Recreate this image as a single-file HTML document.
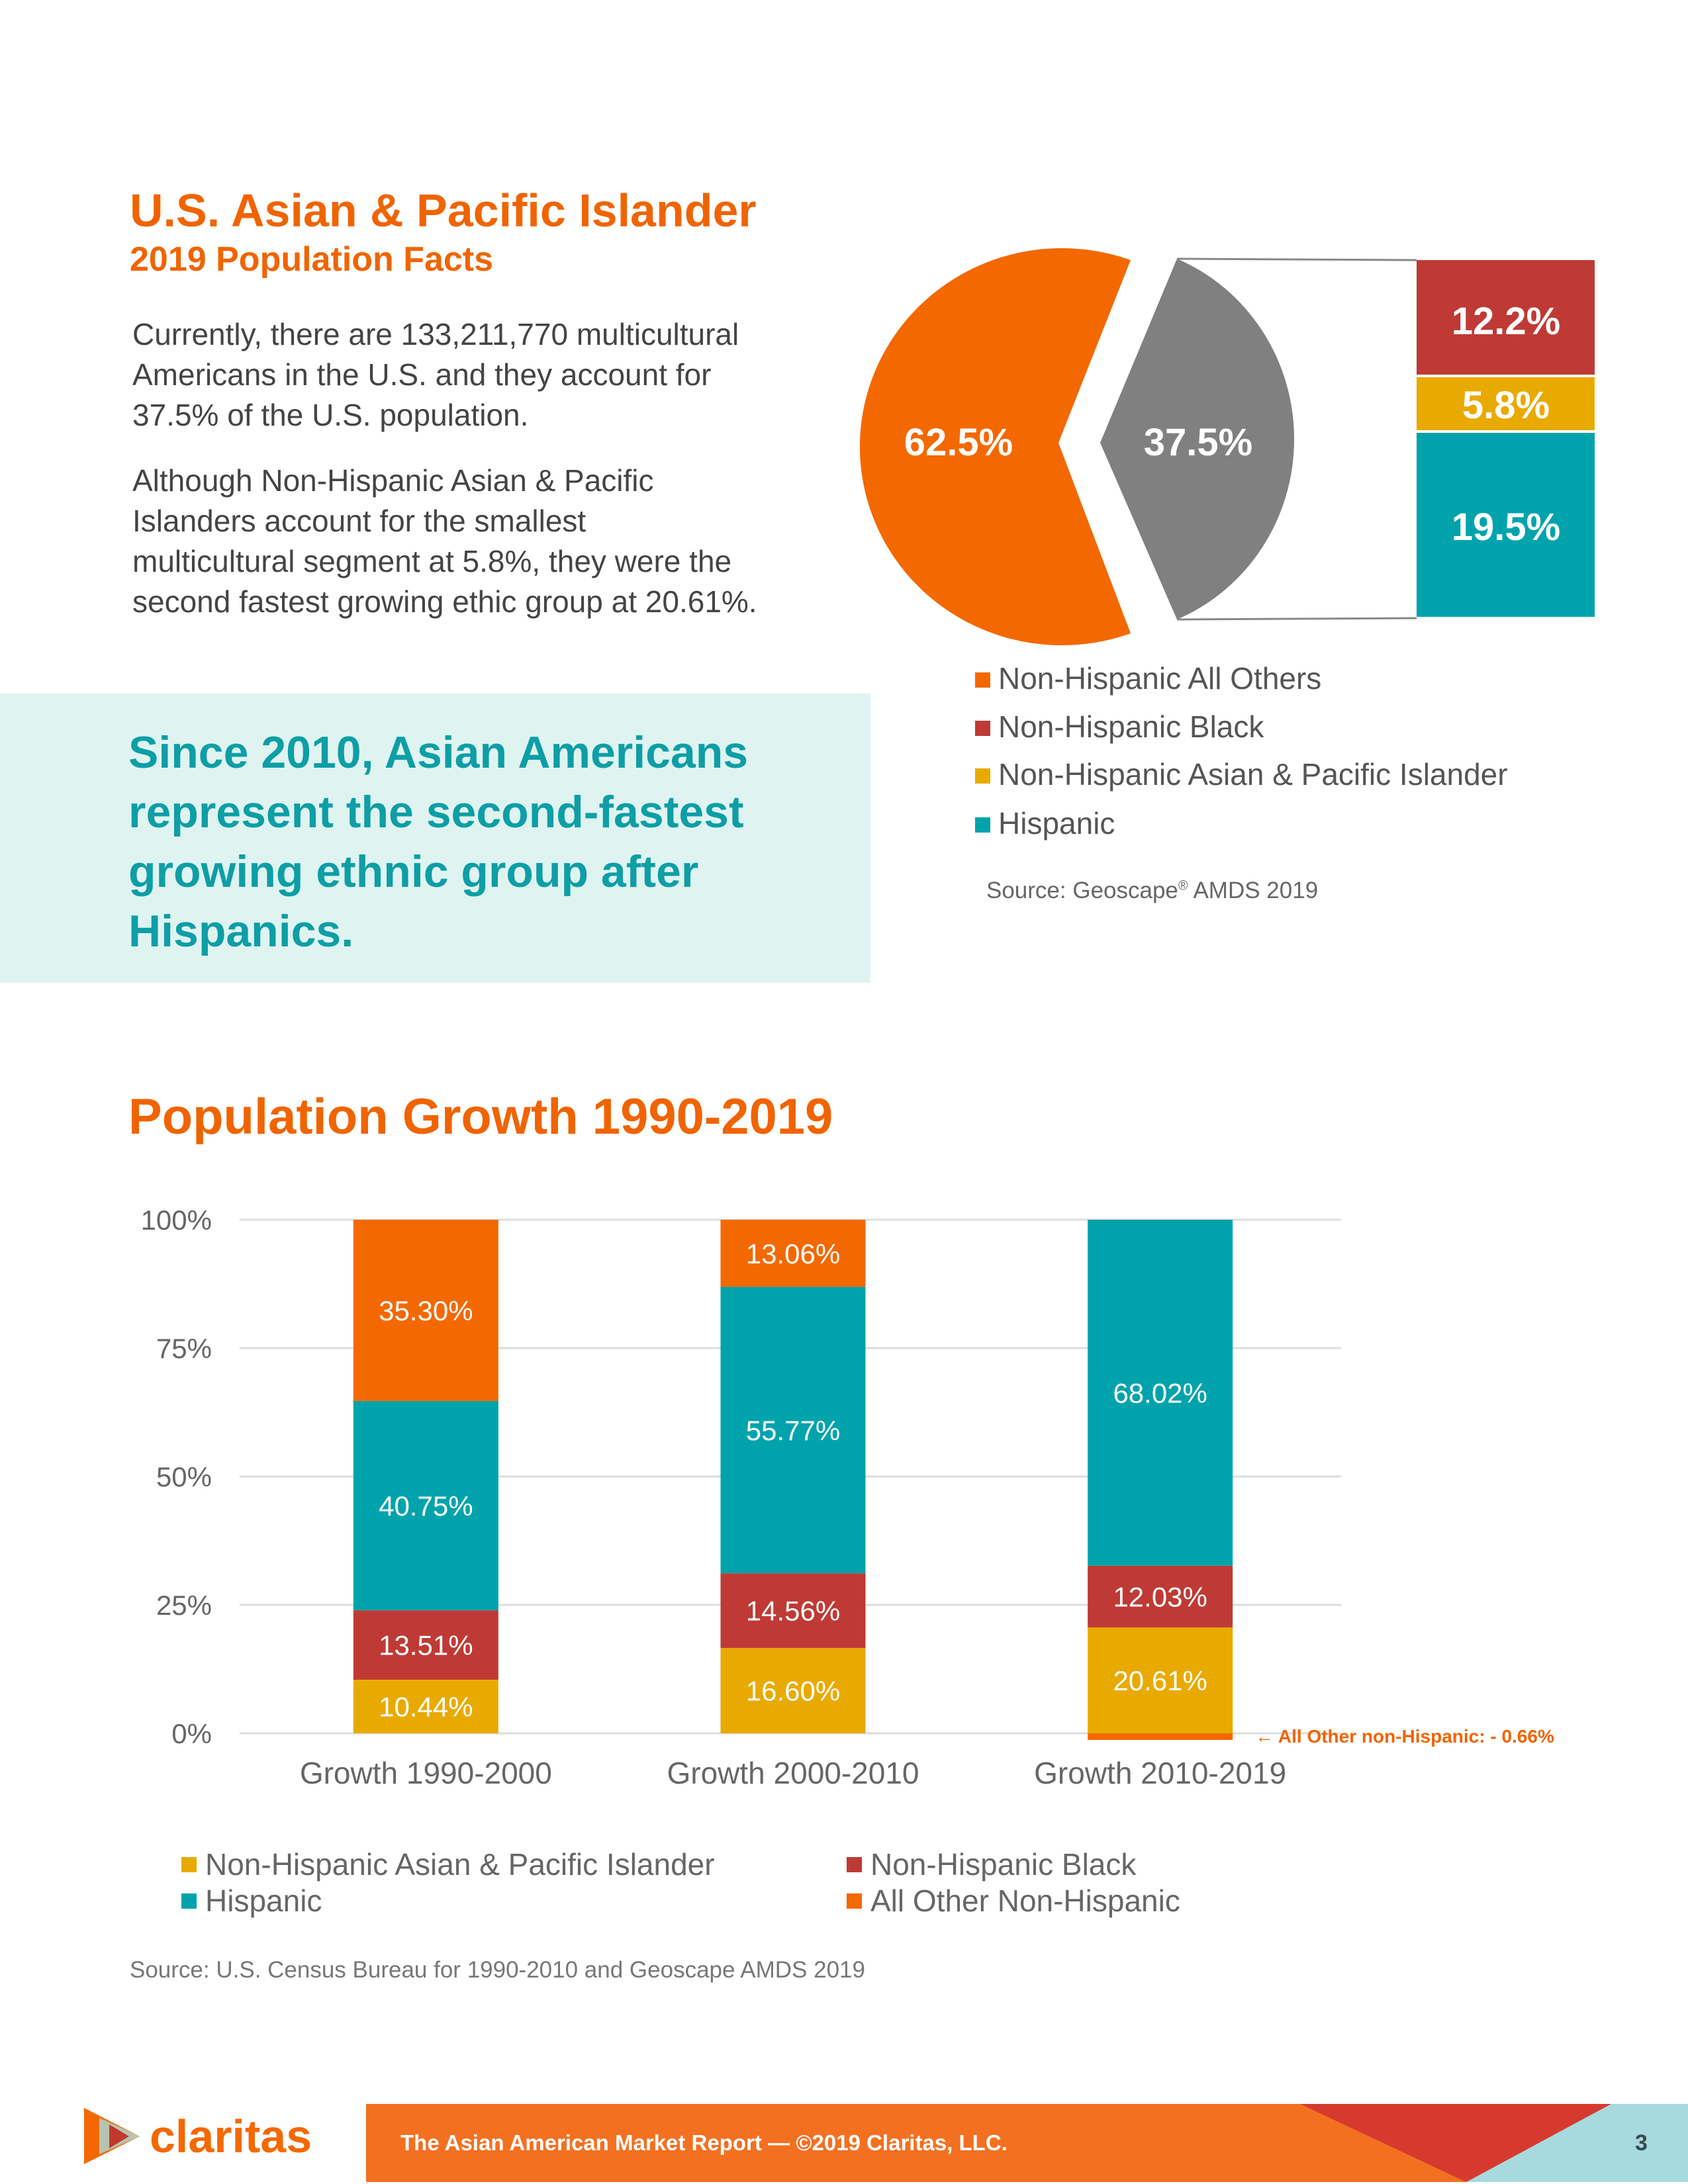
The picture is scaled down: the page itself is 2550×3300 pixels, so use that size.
<!DOCTYPE html>
<html><head><meta charset="utf-8"><style>
body{margin:0;width:2550px;height:3300px;position:relative;background:#fff;font-family:"Liberation Sans",sans-serif;overflow:hidden}
.a{position:absolute;white-space:nowrap}
</style></head><body>
<div class="a" style="left:196px;top:278px;font-size:70px;font-weight:bold;color:#f06400">U.S. Asian &amp; Pacific Islander</div>
<div class="a" style="left:196px;top:362px;font-size:52px;font-weight:bold;color:#f06400">2019 Population Facts</div>
<div class="a" style="left:200px;top:475px;font-size:46px;line-height:61px;color:#444">Currently, there are 133,211,770 multicultural<br>Americans in the U.S. and they account for<br>37.5% of the U.S. population.</div>
<div class="a" style="left:200px;top:696px;font-size:46px;line-height:61px;color:#444">Although Non-Hispanic Asian &amp; Pacific<br>Islanders account for the smallest<br>multicultural segment at 5.8%, they were the<br>second fastest growing ethic group at 20.61%.</div>
<div class="a" style="left:0;top:1048px;width:1315px;height:437px;background:#dff4f1"></div>
<div class="a" style="left:194px;top:1092px;font-size:68px;line-height:90px;font-weight:bold;color:#0e9ea6">Since 2010, Asian Americans<br>represent the second-fastest<br>growing ethnic group after<br>Hispanics.</div>

<svg class="a" style="left:0;top:0" width="2550" height="1100">
<path d="M1708,393 A305,300 0 1 0 1708,957 L1599,669 Z" fill="#f46800"/>
<path d="M1778,391 A287,295 0 0 1 1778,936 L1662,669 Z" fill="#808080"/>
<line x1="1778" y1="391" x2="2140" y2="393" stroke="#888" stroke-width="3"/>
<line x1="1778" y1="936" x2="2140" y2="934" stroke="#888" stroke-width="3"/>
<rect x="2140" y="393" width="269" height="173" fill="#bf3a35"/>
<rect x="2140" y="570" width="269" height="80" fill="#e9aa00"/>
<rect x="2140" y="654" width="269" height="278" fill="#00a3ac"/>
<g font-family="Liberation Sans" font-weight="bold" font-size="58" fill="#fff" text-anchor="middle">
<text x="1448" y="688">62.5%</text><text x="1810" y="688">37.5%</text>
<text x="2275" y="505">12.2%</text><text x="2275" y="632">5.8%</text><text x="2275" y="816">19.5%</text>
</g>
</svg>
<div>
<div class="a" style="left:1473px;top:1016px;width:23px;height:23px;background:#f46800"></div><div class="a" style="left:1508px;top:998px;font-size:46px;color:#555">Non-Hispanic All Others</div>
<div class="a" style="left:1473px;top:1089px;width:23px;height:23px;background:#bf3a35"></div><div class="a" style="left:1508px;top:1071px;font-size:46px;color:#555">Non-Hispanic Black</div>
<div class="a" style="left:1473px;top:1161px;width:23px;height:23px;background:#e9aa00"></div><div class="a" style="left:1508px;top:1143px;font-size:46px;color:#555">Non-Hispanic Asian &amp; Pacific Islander</div>
<div class="a" style="left:1473px;top:1235px;width:23px;height:23px;background:#00a3ac"></div><div class="a" style="left:1508px;top:1217px;font-size:46px;color:#555">Hispanic</div>
</div>
<div class="a" style="left:1490px;top:1326px;font-size:35px;color:#666">Source: Geoscape<sup style="font-size:20px">®</sup> AMDS 2019</div>

<div class="a" style="left:194px;top:1644px;font-size:76px;font-weight:bold;color:#f06400">Population Growth 1990-2019</div>

<svg class="a" id="bar" style="left:0;top:0" width="2550" height="3300"></svg>
<script>
const categories=["Growth 1990-2000","Growth 2000-2010","Growth 2010-2019"];
const asian=[10.44,16.60,20.61];
const black=[13.51,14.56,12.03];
const hispanic=[40.75,55.77,68.02];
const others=[35.30,13.06,-0.66];
const ticks=[0,25,50,75,100];
const svg=document.getElementById('bar');
const NS='http://www.w3.org/2000/svg';
const y0=2619,y100=1843,xL=362,xR=2026;
const y=v=>y0-(y0-y100)*Math.min(v,100)/100;
const bandW=(xR-xL)/3;
const xc=i=>xL+bandW*(i+0.5)+4;
const bw=219;
function el(t,a){const e=document.createElementNS(NS,t);for(const k in a)e.setAttribute(k,a[k]);svg.appendChild(e);return e;}
ticks.forEach(t=>{
 const g=el('line',{x1:xL,x2:xR,y1:y(t),y2:y(t),stroke:'#ddd','stroke-width':3});
 
 
 const l=el('text',{x:320,y:y(t)+15,'text-anchor':'end','font-size':42,fill:'#666','font-family':'Liberation Sans'});
 l.textContent=t+'%';
 
 
});
const series=[[asian,'#e9aa00'],[black,'#bf3a35'],[hispanic,'#00a3ac'],[others,'#f46800']];
categories.forEach((c,i)=>{
 let base=0;
 series.forEach(([arr,col])=>{
  const v=arr[i];
  let top,bot;
  if(v<0){top=y(0);bot=Math.max(y(v),y(0)+10);}else{top=y(base+v);bot=y(base);}
  const r=el('rect',{x:xc(i)-bw/2,y:top,width:bw,height:bot-top,fill:col});
  
  
  if(v>0){
   const t=el('text',{x:xc(i),y:(top+bot)/2+15,'text-anchor':'middle','font-size':42,fill:'#fff','font-family':'Liberation Sans'});
   t.textContent=v.toFixed(2)+'%';
   
   
   base+=v;
  }else{
   const t=el('text',{x:xc(i)+bw/2+34,y:y(0)+14,'font-size':28,'font-weight':'bold',fill:'#f06400','font-family':'Liberation Sans'});
   t.textContent='\u2190 All Other non-Hispanic: - '+Math.abs(v).toFixed(2)+'%';
   
   
  }
 });
 const cl=el('text',{x:xc(i),y:2695,'text-anchor':'middle','font-size':46,fill:'#666','font-family':'Liberation Sans'});
 cl.textContent=c;
 
 
});
</script>
<div>
<div class="a" style="left:274px;top:2806px;width:23px;height:23px;background:#e9aa00"></div><div class="a" style="left:310px;top:2790px;font-size:46px;color:#666">Non-Hispanic Asian &amp; Pacific Islander</div>
<div class="a" style="left:274px;top:2861px;width:23px;height:23px;background:#00a3ac"></div><div class="a" style="left:310px;top:2845px;font-size:46px;color:#666">Hispanic</div>
<div class="a" style="left:1279px;top:2806px;width:23px;height:23px;background:#bf3a35"></div><div class="a" style="left:1315px;top:2790px;font-size:46px;color:#666">Non-Hispanic Black</div>
<div class="a" style="left:1279px;top:2861px;width:23px;height:23px;background:#f46800"></div><div class="a" style="left:1315px;top:2845px;font-size:46px;color:#666">All Other Non-Hispanic</div>
</div>
<div class="a" style="left:196px;top:2957px;font-size:35px;color:#777">Source: U.S. Census Bureau for 1990-2010 and Geoscape AMDS 2019</div>

<svg class="a" style="left:0;top:3150px" width="2550" height="150">
<rect x="553" y="29" width="1997" height="118" fill="#f37021"/>
<polygon points="2434,29 2550,29 2550,147 2215,147" fill="#a6dadf"/>
<polygon points="1964,29 2434,29 2215,147" fill="#d63a2f"/>
<polygon points="127,35 211,78 127,120" fill="#f46800"/>
<polygon points="150,50 211,78 150,105" fill="#a6dadf" opacity="0.8"/>
<polygon points="165,60 195,78 165,96" fill="#c0392b"/>
<text x="226" y="102" font-family="Liberation Sans" font-weight="bold" font-size="70" fill="#f46800">claritas</text>
<text x="605" y="99" font-family="Liberation Sans" font-weight="bold" font-size="33" fill="#fff">The Asian American Market Report — ©2019 Claritas, LLC.</text>
<text x="2470" y="99" font-family="Liberation Sans" font-weight="bold" font-size="34" fill="#3a4a50">3</text>
</svg>
</body></html>
